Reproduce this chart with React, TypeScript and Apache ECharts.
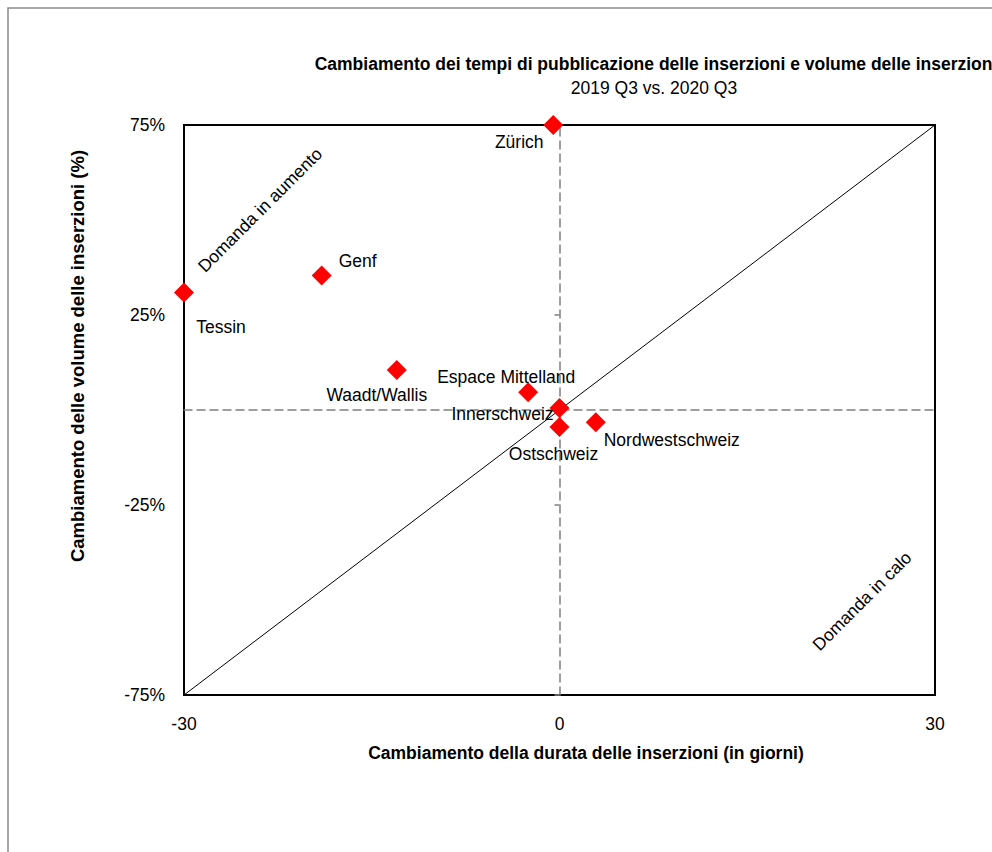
import React, { useEffect, useRef } from "react";
import * as echarts from "echarts";

// ---- Data ----
const regions = [
  "Zürich",
  "Genf",
  "Tessin",
  "Waadt/Wallis",
  "Espace Mittelland",
  "Innerschweiz",
  "Ostschweiz",
  "Nordwestschweiz",
];
// change of listing duration (days)
const durationChange = [-0.5, -19.0, -30.0, -13.0, -2.5, 0.0, 0.0, 2.9];
// change of listing volume (%)
const volumeChange = [75.0, 35.4, 30.9, 10.5, 4.7, 0.5, -4.5, -3.2];

const xTickLabels = [-30, 0, 30];
const yTickLabels = [-75, -25, 25, 75];
const diagonalX = [-30, 30];
const diagonalY = [-75, 75];

const titleText =
  "Cambiamento dei tempi di pubblicazione delle inserzioni e volume delle inserzioni";
const subtitleText = "2019 Q3 vs. 2020 Q3";
const xTitle = "Cambiamento della durata delle inserzioni (in giorni)";
const yTitle = "Cambiamento delle volume delle inserzioni (%)";
const noteUp = "Domanda in aumento";
const noteDown = "Domanda in calo";

// ---- Layout (label placement relative to marker centre) ----
const labelOffsets: Record<string, [number, number]> = {
  "Zürich": [-34, 17],
  Genf: [36, -14],
  Tessin: [37, 34],
  "Waadt/Wallis": [-20, 25],
  "Espace Mittelland": [-22, -15],
  Innerschweiz: [-57, 6],
  Ostschweiz: [-6, 27],
  Nordwestschweiz: [76, 18],
};

const FONT = '"Liberation Sans", Arial, "Helvetica", sans-serif';
const FS = 17.5;
const GRID = { left: 184, top: 125, width: 751, height: 570 };

export default function App() {
  const ref = useRef<HTMLDivElement>(null);

  useEffect(() => {
    if (!ref.current) return;
    const chart = echarts.init(ref.current, undefined, { renderer: "svg" });

    const xMin = xTickLabels[0];
    const xMax = xTickLabels[xTickLabels.length - 1];
    const yMin = yTickLabels[0];
    const yMax = yTickLabels[yTickLabels.length - 1];

    const scatterData = regions.map((name, i) => ({
      name,
      value: [durationChange[i], volumeChange[i]],
      label: { offset: labelOffsets[name] },
    }));

    const dashed = { color: "#7f7f7f", width: 1.5, type: [8, 5] as any };

    const textStyle = (text: string, font: string) => ({
      text,
      fill: "#000",
      font,
      textAlign: "center",
      textVerticalAlign: "middle",
    });

    const option: any = {
      animation: false,
      backgroundColor: "#ffffff",
      grid: {
        ...GRID,
        show: true,
        borderColor: "#000000",
        borderWidth: 2,
        backgroundColor: "transparent",
        containLabel: false,
      },
      xAxis: [
        {
          type: "value",
          min: xMin,
          max: xMax,
          interval: 30,
          position: "bottom",
          axisLine: { show: false },
          axisTick: { show: false },
          splitLine: { show: false },
          axisLabel: {
            color: "#000",
            fontSize: FS,
            fontFamily: FONT,
            margin: 20,
          },
        },
        {
          type: "value",
          min: xMin,
          max: xMax,
          interval: 30,
          position: "bottom",
          offset: -GRID.height / 2,
          axisLine: { show: true, onZero: false, lineStyle: dashed },
          axisTick: { show: false },
          axisLabel: { show: false },
          splitLine: { show: false },
        },
      ],
      yAxis: [
        {
          type: "value",
          min: yMin,
          max: yMax,
          interval: 50,
          position: "left",
          axisLine: { show: false },
          axisTick: { show: false },
          splitLine: { show: false },
          axisLabel: {
            color: "#000",
            fontSize: FS,
            fontFamily: FONT,
            margin: 19,
            formatter: (v: number) => `${v}%`,
          },
        },
        {
          type: "value",
          min: yMin,
          max: yMax,
          interval: 50,
          position: "left",
          offset: -GRID.width / 2,
          axisLine: { show: true, onZero: false, lineStyle: dashed },
          axisTick: {
            show: true,
            length: 5,
            lineStyle: { color: "#7f7f7f", width: 1.5 },
          },
          axisLabel: { show: false },
          splitLine: { show: false },
        },
      ],
      series: [
        {
          type: "line",
          xAxisIndex: 0,
          yAxisIndex: 0,
          data: diagonalX.map((x, i) => [x, diagonalY[i]]),
          symbol: "none",
          lineStyle: { color: "#000", width: 1 },
          z: 3,
          silent: true,
        },
        {
          type: "scatter",
          xAxisIndex: 0,
          yAxisIndex: 0,
          data: scatterData,
          symbol: "diamond",
          symbolSize: [20, 20],
          clip: false,
          itemStyle: { color: "#ff0000", opacity: 1 },
          label: {
            show: true,
            position: "inside",
            formatter: (p: any) => p.name,
            color: "#000",
            fontSize: FS,
            fontFamily: FONT,
          },
          emphasis: { disabled: true },
          z: 5,
        },
      ],
      graphic: [
        {
          type: "rect",
          shape: { x: 8, y: 8, width: 1200, height: 1200 },
          style: { fill: "none", stroke: "#8a8a8a", lineWidth: 1.5 },
          silent: true,
        },
        {
          type: "text",
          x: 656,
          y: 64,
          style: textStyle(titleText, `bold ${FS}px ${FONT}`),
        },
        {
          type: "text",
          x: 654,
          y: 88,
          style: textStyle(subtitleText, `${FS}px ${FONT}`),
        },
        {
          type: "text",
          x: 586,
          y: 753,
          style: textStyle(xTitle, `bold ${FS}px ${FONT}`),
        },
        {
          type: "text",
          x: 77,
          y: 356,
          rotation: Math.PI / 2,
          style: textStyle(yTitle, `bold 18.5px ${FONT}`),
        },
        {
          type: "text",
          x: 260,
          y: 210,
          rotation: Math.PI / 4,
          style: textStyle(noteUp, `${FS}px ${FONT}`),
        },
        {
          type: "text",
          x: 862,
          y: 601,
          rotation: Math.PI / 4,
          style: textStyle(noteDown, `${FS}px ${FONT}`),
        },
      ],
    };

    chart.setOption(option);
    return () => chart.dispose();
  }, []);

  return (
    <div
      ref={ref}
      style={{ position: "fixed", left: 0, top: 0, width: 992, height: 852 }}
    />
  );
}
